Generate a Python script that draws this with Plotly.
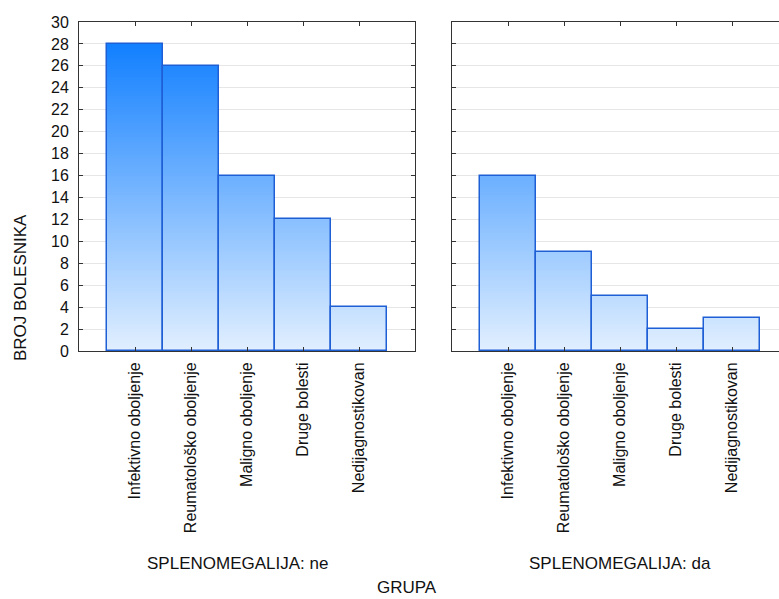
import numpy as np
import plotly.graph_objects as go

# ---------------- data ----------------
categories = ["Infektivno oboljenje", "Reumatološko oboljenje", "Maligno oboljenje",
              "Druge bolesti", "Nedijagnostikovan"]
counts_ne = [28, 26, 16, 12, 4]
counts_da = [16, 9, 5, 2, 3]
panel_titles = ["SPLENOMEGALIJA: ne", "SPLENOMEGALIJA: da"]
y_ticks = list(range(0, 31, 2))
x_title = "GRUPA"
y_title = "BROJ BOLESNIKA"

# ---------------- style ----------------
W, H = 779, 599
FONT = "Liberation Sans, Arial, sans-serif"
C_LOW = np.array([226, 239, 255])
C_HIGH = np.array([18, 128, 255])
OUTLINE = "#1f5fd6"
STEP = 0.25


def band_color(h, hmax):
    t = min(max(h / hmax, 0.0), 1.0)
    c = C_LOW + (C_HIGH - C_LOW) * t
    return "rgb(%d,%d,%d)" % tuple(int(round(v)) for v in c)


hmax = max(max(counts_ne), max(counts_da))
tops = np.arange(STEP, hmax + STEP, STEP)

fig = go.Figure()
for vals, xa, ya in [(counts_ne, "x", "y"), (counts_da, "x2", "y2")]:
    v = np.array(vals, dtype=float)
    for top in tops[::-1]:
        if top - STEP >= v.max():
            continue
        fig.add_trace(go.Bar(
            x=categories, y=np.minimum(v, top),
            marker=dict(color=band_color(top - STEP / 2, hmax), line=dict(width=0)),
            xaxis=xa, yaxis=ya, showlegend=False, hoverinfo="skip"))
    fig.add_trace(go.Bar(
        x=categories, y=v,
        marker=dict(color="rgba(0,0,0,0)", line=dict(color=OUTLINE, width=1.5)),
        xaxis=xa, yaxis=ya, showlegend=False))

px_x = lambda p: p / W
px_y = lambda p: 1 - p / H

ydom = [px_y(351), px_y(22)]
common_x = dict(type="category", showline=True, linecolor="#333", linewidth=1,
                ticks="inside", ticklen=4, tickcolor="#333", mirror="ticks",
                tickangle=-90, tickfont=dict(family=FONT, size=16, color="#111"),
                showgrid=False, fixedrange=True, ticklabelstandoff=4, automargin=False)
common_y = dict(range=[0, 30], tickvals=y_ticks, showline=True, linecolor="#333",
                linewidth=1, ticks="inside", ticklen=4, tickcolor="#333",
                showgrid=True, gridcolor="#e6e6e6", gridwidth=1.3, zeroline=False,
                tickfont=dict(family=FONT, size=16, color="#111"), fixedrange=True,
                automargin=False)

right_units = (W - 452) / 56.0
TITLE_FONT = dict(family=FONT, size=17, color="#111")

fig.update_layout(
    width=W, height=H, margin=dict(l=0, r=0, t=0, b=0, pad=0),
    paper_bgcolor="white", plot_bgcolor="white",
    barmode="overlay", bargap=0,
    font=dict(family=FONT, size=16, color="#111"),
    xaxis=dict(domain=[px_x(79), px_x(415)], range=[-1, 5], anchor="y", **common_x),
    yaxis=dict(domain=ydom, anchor="x", mirror="ticks", ticklabelstandoff=6, **common_y),
    xaxis2=dict(domain=[px_x(452), 1.0], range=[-1, right_units - 1], anchor="y2", **common_x),
    yaxis2=dict(domain=ydom, anchor="x2", mirror=False, showticklabels=False, **common_y),
    annotations=[
        dict(text=panel_titles[0], x=px_x(237), y=px_y(563), xref="paper", yref="paper",
             showarrow=False, xanchor="center", yanchor="middle", font=TITLE_FONT),
        dict(text=panel_titles[1], x=px_x(620), y=px_y(563), xref="paper", yref="paper",
             showarrow=False, xanchor="center", yanchor="middle", font=TITLE_FONT),
        dict(text=x_title, x=px_x(407), y=px_y(587.5), xref="paper", yref="paper",
             showarrow=False, xanchor="center", yanchor="middle", borderpad=0,
             font=TITLE_FONT),
        dict(text=y_title, x=px_x(20), y=px_y(288), xref="paper", yref="paper",
             showarrow=False, xanchor="center", yanchor="middle", textangle=-90,
             font=TITLE_FONT),
    ],
)

fig.write_html("out.html", config={"displayModeBar": False},
               post_script="document.body.style.margin='0';")
